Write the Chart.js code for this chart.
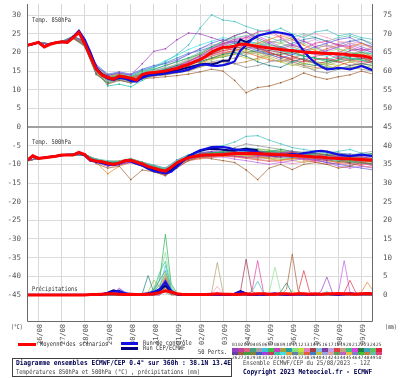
<!DOCTYPE html>
<html>
<head>
<meta charset="utf-8">
<script src="https://cdn.jsdelivr.net/npm/chart.js@4.4.1/dist/chart.umd.min.js"></script>
<style>
  body { margin: 0; background: #fff; }
  #wrap { position: relative; width: 400px; height: 378px; overflow: hidden; background: #fff; }
  #c { position: absolute; left: 0; top: 0; }
  .lbl { position: absolute; white-space: nowrap; font-family: 'DejaVu Sans Mono', monospace; line-height: 1; transform-origin: 0 0; color: #333; }
  .bar { position: absolute; }
</style>
</head>
<body>
<div id="wrap">
  <canvas id="c" width="400" height="378"></canvas>

  <div class="lbl" style="left:32px;top:17px;font-size:6.5px;transform:scaleX(0.83)">Temp. 850hPa</div>
  <div class="lbl" style="left:32px;top:139px;font-size:6.5px;transform:scaleX(0.83)">Temp. 500hPa</div>
  <div class="lbl" style="left:32px;top:286px;font-size:6.5px;transform:scaleX(0.83)">Précipitations</div>
  <div class="lbl" style="left:11px;top:324px;font-size:6.5px;transform:scaleX(0.75)">(°C)</div>
  <div class="lbl" style="left:385px;top:324px;font-size:6.5px;transform:scaleX(0.75)">(mm)</div>

  <div class="bar" style="left:18px;top:343px;width:18px;height:3px;background:#ff0000"></div>
  <div class="lbl" style="left:40px;top:341px;font-size:6.5px;transform:scaleX(0.83)">Moyenne des scénarios</div>
  <div class="bar" style="left:121px;top:342px;width:17px;height:3px;background:#1010e0"></div>
  <div class="bar" style="left:121px;top:347px;width:17px;height:3px;background:#000080"></div>
  <div class="lbl" style="left:143px;top:340px;font-size:6.5px;transform:scaleX(0.83)">Run de contrôle</div>
  <div class="lbl" style="left:143px;top:345px;font-size:6.5px;transform:scaleX(0.83)">Run CEP/ECMWF</div>
  <div class="lbl" style="left:198px;top:349px;font-size:6.5px;transform:scaleX(0.83)">50 Perts.</div>
  <div id="pal"></div>

  <div class="bar" style="left:12px;top:358px;width:220px;height:19px;border:1px solid #404040;box-sizing:border-box"></div>
  <div class="lbl" style="left:16px;top:360px;font-size:7px;font-weight:bold;color:#000050;transform:scaleX(0.895)">Diagramme ensembles ECMWF/CEP 0.4° sur 360h : 38.1N 13.4E</div>
  <div class="lbl" style="left:16px;top:369px;font-size:6.5px;color:#444;transform:scaleX(0.84)">Températures 850hPa et 500hPa (°C) , précipitations (mm)</div>
  <div class="lbl" style="left:243px;top:360px;font-size:6.5px;color:#444;transform:scaleX(0.855)">Ensemble ECMWF/CEP du 25/08/2023 - 12Z</div>
  <div class="lbl" style="left:243px;top:369px;font-size:7px;font-weight:bold;color:#000050;transform:scaleX(0.876)">Copyright 2023 Meteociel.fr - ECMWF</div>
</div>

<script>
// forecast steps (hours after 25/08 12Z)
const hours6 = [0,6,12,18,24,30,36,42,48,54,60,66,72,78,84,90,96,102,108,114,120,126,132,138,144,150,156,162,168,174,180,186,192,198,204,210,216,222,228,234,240,246,252,258,264,270,276,282,288,294,300,306,312,318,324,330,336,342,348,354,360]
const hours12 = [0,12,24,36,48,60,72,84,96,108,120,132,144,156,168,180,192,204,216,228,240,252,264,276,288,300,312,324,336,348,360]

const dayTicks = [12,36,60,84,108,132,156,180,204,228,252,276,300,324,348]
const dayLabels = ['26/08','27/08','28/08','29/08','30/08','31/08','01/09','02/09','03/09','04/09','05/09','06/09','07/09','08/09','09/09']
const leftTicks = [30,25,20,15,10,5,0,-5,-10,-15,-20,-25,-30,-35,-40,-45]
const rightTicks = [75,70,65,60,55,50,45,40,35,30,25,20,15,10,5,0]

// 850 hPa temperature (°C)
const t850Mean = [21.9,22.3,22.7,21.5,22.2,22.6,22.9,22.7,24.0,25.4,
  22.4,18.9,15.5,13.9,13.3,12.8,13.7,13.4,13.1,12.6,
  14.1,14.5,14.6,14.8,15.0,15.4,15.7,16.3,16.8,17.5,
  18.1,19.0,20.1,20.8,21.4,21.4,21.7,22.2,22.2,21.9,
  21.6,21.4,21.2,21.0,20.8,20.6,20.5,20.3,20.1,20.0,
  19.9,19.8,19.7,19.7,19.6,19.5,19.3,19.2,19.1,18.8,
  18.4]
const t850Ctrl = [21.9,22.3,22.6,21.6,22.3,22.6,22.8,22.8,24.2,25.8,
  23.5,20.0,16.0,14.0,13.0,12.6,13.2,13.0,12.4,12.2,
  13.2,13.8,14.0,14.1,14.3,14.6,14.8,15.0,15.4,16.0,
  16.6,16.8,16.5,16.4,16.6,17.0,17.6,20.5,22.0,23.5,
  24.5,24.9,25.2,25.5,25.3,25.0,24.6,22.5,20.3,18.6,
  17.2,16.2,15.5,15.6,15.9,15.7,15.5,15.9,16.4,15.8,
  15.2]
const t850Oper = [21.9,22.2,22.7,21.6,22.2,22.7,22.9,22.8,24.1,25.6,
  23.0,19.5,15.8,14.2,13.4,12.9,13.3,13.1,12.6,12.4,
  13.6,14.0,14.2,14.4,14.6,14.9,15.2,15.6,16.0,16.4,
  16.8,17.0,16.8,17.2,17.8,17.8,21.0,23.5,22.8,23.5,
  24.3]
const t850Members = [
  [21.8,22.6,22.3,22.8,24.2,23.0,16.5,13.8,14.5,14.0,17.0,20.3,21.0,23.4,25.2,25.0,24.0,23.0,24.5,25.5,24.0,22.5,21.0,22.0,23.0,21.5,20.0,19.0,20.5,21.0,20.0],
  [21.9,22.7,22.2,22.9,24.5,21.5,14.8,12.5,13.0,12.8,14.5,16.0,17.5,19.5,22.0,26.5,30.1,28.7,28.3,27.0,26.0,25.5,26.5,25.0,24.0,25.5,26.0,24.5,25.0,24.0,23.5],
  [21.9,22.6,22.1,22.8,23.8,22.0,14.5,11.5,12.5,12.0,13.0,13.2,13.5,13.8,14.2,14.8,15.5,15.0,12.5,9.2,10.6,11.0,11.9,13.0,14.5,13.5,12.8,13.5,14.0,15.0,14.2],
  [21.9,22.7,22.3,22.9,24.3,22.8,16.0,13.0,14.0,13.5,15.0,15.5,16.5,17.5,18.5,19.5,21.5,23.0,24.5,25.5,23.5,22.0,21.5,20.5,19.0,18.5,17.5,18.0,19.5,20.0,19.5],
  [21.9,22.6,22.2,22.8,24.0,22.5,15.0,12.8,13.2,12.5,13.5,14.0,14.8,16.0,17.5,19.0,21.0,22.5,23.5,24.0,25.5,26.0,24.0,22.0,21.0,22.5,23.0,22.0,21.5,20.5,21.0],
  [21.9,22.7,22.2,22.9,23.9,21.8,14.2,11.8,12.6,11.8,13.0,14.5,15.5,16.5,17.0,17.5,18.5,19.5,20.0,19.0,17.5,16.5,16.0,17.5,18.5,17.0,16.0,15.5,16.5,17.0,16.5],
  [21.9,22.7,22.3,22.9,24.1,22.3,15.8,13.6,14.2,13.4,14.0,14.2,14.5,15.0,15.8,17.0,18.5,19.5,20.5,21.5,22.5,23.5,24.5,23.5,22.0,20.5,19.5,20.0,21.5,22.5,21.0],
  [21.9,22.7,22.1,22.8,23.7,21.6,14.0,12.0,13.0,12.4,13.5,13.8,14.0,14.5,15.0,16.0,17.0,17.8,18.5,19.5,20.0,19.0,18.0,17.0,16.0,15.5,16.5,17.5,18.0,17.0,16.5],
  [21.9,22.6,22.3,22.9,24.2,23.2,16.8,14.2,14.8,14.2,15.5,16.5,17.0,18.0,19.5,21.0,22.5,23.5,22.5,21.5,20.5,19.5,18.5,19.5,20.5,21.5,22.5,23.5,24.0,22.5,21.5],
  [21.9,22.7,22.2,22.9,24.0,22.0,15.2,13.0,13.5,13.0,14.0,14.8,15.2,15.8,16.5,18.0,19.5,20.5,21.0,22.0,21.5,20.0,19.0,18.0,17.5,18.0,18.5,17.5,16.5,17.0,17.5],
  [21.9,22.7,22.2,22.8,24.4,23.0,16.2,13.5,14.0,13.6,14.6,15.0,15.8,16.8,18.0,19.5,20.5,21.0,22.0,23.0,22.0,21.0,22.5,23.5,22.5,21.0,20.0,21.0,20.0,19.5,18.5],
  [21.9,22.6,22.2,22.9,23.9,22.0,14.8,12.3,12.8,12.2,13.2,13.6,14.2,14.8,15.5,16.5,17.5,18.0,17.0,16.0,16.5,17.5,18.0,17.5,16.5,15.0,14.5,15.5,16.0,15.5,15.0],
  [21.9,22.7,22.3,22.9,24.1,22.6,15.6,11.0,11.5,10.8,12.5,14.0,15.0,16.0,17.0,18.5,20.0,21.5,22.5,23.0,22.5,21.5,20.5,19.5,19.0,18.5,18.0,19.0,18.5,18.0,17.0],
  [21.9,22.6,22.2,22.8,24.0,22.2,15.4,13.2,13.8,13.2,14.2,14.6,15.2,16.2,17.2,18.8,20.8,22.0,23.0,24.0,24.5,23.0,21.5,20.5,20.0,19.5,20.5,21.5,22.0,21.0,20.0],
  [21.9,22.7,22.2,22.9,24.2,22.4,15.5,13.4,13.6,13.0,14.0,14.4,14.8,15.4,16.0,17.2,18.4,19.2,20.0,20.5,19.5,18.5,17.5,16.5,17.0,17.5,16.5,15.5,16.0,16.5,16.0],
  [21.9,22.7,22.3,22.9,24.1,22.5,15.8,13.3,13.9,13.3,14.3,14.9,15.5,16.4,17.6,19.2,21.0,22.3,23.0,22.5,21.0,20.5,20.0,19.0,18.0,17.0,17.5,18.5,19.0,18.5,17.5],
  [21.9,22.6,22.2,22.8,23.8,21.9,14.9,12.6,13.1,12.7,13.6,14.1,14.6,15.2,16.2,17.6,19.2,20.2,21.5,23.5,24.5,25.0,24.0,23.0,24.5,25.0,24.0,23.0,22.5,22.0,21.5],
  [21.9,22.7,22.2,22.9,24.0,22.6,15.6,13.1,13.5,12.9,14.1,14.7,15.1,15.6,16.4,17.8,19.6,21.0,21.5,21.0,20.0,19.5,19.5,20.0,19.0,18.5,18.0,17.5,18.0,18.5,18.0],
  [21.9,22.6,22.2,22.9,24.0,22.3,15.2,12.9,13.4,12.9,14.0,15.0,16.2,17.8,19.5,21.0,22.0,22.5,23.5,24.5,23.0,21.5,20.5,21.5,22.5,23.5,22.0,20.5,19.5,20.5,21.5],
  [21.9,22.7,22.2,22.8,24.1,22.6,15.6,13.4,13.8,13.1,14.3,14.8,15.3,16.0,17.0,18.2,19.5,20.5,21.0,20.0,19.0,18.0,17.5,18.5,19.5,20.0,21.0,22.0,21.0,20.0,19.0],
  [21.9,22.6,22.3,22.9,24.3,23.0,16.3,13.9,14.4,13.8,15.2,16.0,17.2,18.5,19.8,20.5,21.5,22.5,23.0,22.0,21.0,20.5,21.5,22.5,23.5,24.0,23.0,22.0,23.0,23.5,22.0],
  [21.9,22.7,22.2,22.9,23.9,21.9,14.6,12.2,12.9,12.3,13.3,13.9,14.5,15.0,15.6,16.8,18.0,19.0,19.5,18.5,18.0,19.0,20.0,19.0,18.0,17.5,17.0,16.5,17.5,18.0,17.0],
  [21.9,22.6,22.2,22.8,24.2,22.7,15.9,13.7,14.1,13.5,14.6,15.4,16.6,17.5,18.6,20.0,21.5,23.0,24.0,24.5,25.0,24.0,23.0,24.0,25.0,24.0,23.0,24.0,24.5,23.5,22.5],
  [21.9,22.7,22.3,22.9,24.0,22.2,15.3,12.7,13.3,12.6,13.7,14.3,14.9,15.6,16.5,17.8,19.2,20.0,20.5,21.5,21.0,20.0,19.0,18.5,18.0,19.0,19.5,18.5,18.0,17.5,17.5],
  [21.9,22.6,22.2,22.9,24.1,22.4,15.7,13.2,13.7,13.2,14.4,15.2,15.8,16.6,17.8,19.0,20.2,21.2,22.0,22.5,21.5,22.5,23.5,22.0,21.0,20.0,20.5,21.5,22.5,21.5,20.5],
  [21.9,22.7,22.2,22.8,23.8,21.7,14.4,12.4,13.0,12.5,13.4,13.7,14.0,14.6,15.2,16.2,17.2,17.5,17.0,17.5,18.5,19.5,18.5,17.5,16.5,16.0,15.5,16.5,17.5,16.5,15.5],
  [21.9,22.6,22.3,22.9,24.2,22.9,16.4,14.0,14.6,14.0,15.4,16.2,17.8,19.2,20.8,22.0,23.0,24.0,23.5,23.0,22.0,21.0,20.0,21.0,20.5,19.5,19.0,20.0,21.0,20.5,19.5],
  [21.9,22.7,22.2,22.9,24.0,22.4,15.4,13.0,13.5,12.9,14.0,14.5,15.0,15.8,16.8,18.0,19.0,19.8,20.5,21.0,22.0,23.0,22.5,21.5,20.5,21.0,22.0,21.0,20.0,19.5,19.0],
  [21.9,22.6,22.2,22.8,24.1,22.5,15.6,13.3,13.8,13.3,14.5,15.1,15.9,16.9,18.2,19.8,21.2,22.0,22.5,23.5,24.5,25.5,25.0,24.0,23.0,22.0,21.5,22.5,23.0,22.5,21.5],
  [21.9,22.7,22.3,22.9,24.0,22.1,15.0,12.5,13.1,12.6,13.8,14.4,15.2,16.0,16.8,17.6,18.4,18.8,19.5,20.0,20.5,20.0,19.0,18.0,17.0,16.5,17.0,18.0,18.5,18.0,17.5]
]

// 500 hPa temperature (°C)
const t500Mean = [-9.0,-7.7,-8.4,-8.2,-8.0,-7.8,-7.5,-7.5,-7.5,-6.8,
  -7.4,-8.8,-9.1,-9.3,-9.7,-10.0,-9.6,-9.0,-8.9,-9.4,
  -9.9,-10.6,-11.0,-11.5,-11.8,-10.8,-9.6,-8.8,-8.2,-7.9,
  -7.6,-7.5,-7.5,-7.4,-7.4,-7.2,-7.1,-7.1,-7.1,-7.0,
  -7.1,-7.2,-7.3,-7.4,-7.4,-7.5,-7.6,-7.7,-7.8,-7.9,
  -8.0,-8.0,-8.2,-8.3,-8.4,-8.5,-8.5,-8.6,-8.7,-8.8,
  -8.9]
const t500Ctrl = [-9.0,-7.8,-8.3,-8.2,-8.0,-7.8,-7.6,-7.4,-7.4,-6.9,
  -7.6,-9.0,-9.3,-9.6,-10.0,-10.2,-9.8,-9.0,-9.2,-9.8,
  -10.3,-11.2,-11.8,-12.1,-12.4,-12.0,-10.6,-9.2,-8.0,-7.0,
  -6.2,-5.8,-5.4,-5.3,-5.4,-5.6,-6.0,-6.2,-6.2,-6.4,
  -6.8,-7.2,-7.4,-7.6,-7.5,-7.4,-7.2,-7.4,-7.0,-6.8,
  -6.5,-6.4,-6.6,-7.0,-7.4,-7.6,-7.8,-7.6,-7.4,-7.6,
  -7.8]
const t500Oper = [-9.0,-7.7,-8.4,-8.2,-8.0,-7.8,-7.5,-7.5,-7.4,-6.8,
  -7.5,-8.9,-9.2,-9.5,-9.9,-10.1,-9.7,-9.1,-9.0,-9.6,
  -10.1,-10.9,-11.5,-11.9,-12.2,-11.6,-10.2,-8.9,-7.8,-7.0,
  -6.4,-6.0,-5.8,-5.9,-6.1,-6.2,-6.3,-6.0,-5.8,-6.0,
  -6.2]
const t500Members = [
  [-9.0,-8.3,-8.0,-7.6,-7.4,-7.2,-9.5,-10.5,-10.0,-9.5,-10.5,-11.5,-12.5,-10.0,-8.5,-7.0,-6.5,-6.0,-6.5,-7.0,-7.5,-8.0,-7.0,-6.5,-7.5,-8.5,-9.0,-8.0,-7.5,-8.0,-8.5],
  [-9.0,-8.4,-8.1,-7.4,-7.5,-7.6,-8.5,-9.0,-9.2,-8.5,-9.5,-10.5,-11.0,-9.0,-7.5,-6.5,-5.5,-5.0,-4.0,-2.5,-2.3,-3.5,-4.5,-5.5,-6.0,-6.5,-7.0,-6.5,-6.0,-7.0,-7.5],
  [-9.0,-8.5,-8.0,-7.5,-7.6,-7.3,-9.8,-11.0,-10.5,-14.1,-11.5,-12.0,-13.0,-11.0,-9.0,-8.0,-8.5,-9.0,-9.5,-11.5,-14.1,-11.0,-10.0,-11.4,-10.0,-9.5,-10.0,-11.0,-10.5,-9.5,-10.0],
  [-9.0,-8.4,-7.9,-7.5,-7.3,-7.5,-8.8,-9.5,-9.3,-8.5,-9.5,-10.5,-11.5,-9.5,-8.0,-7.5,-7.0,-6.5,-6.0,-6.5,-7.0,-6.5,-6.0,-6.5,-7.0,-7.5,-8.0,-8.5,-9.0,-9.5,-10.0],
  [-9.0,-8.3,-8.0,-7.5,-7.5,-7.4,-9.2,-10.0,-10.0,-9.0,-10.0,-11.5,-12.0,-10.0,-8.5,-8.0,-7.8,-7.5,-7.8,-8.2,-8.0,-7.5,-7.2,-7.8,-8.5,-9.0,-8.5,-8.0,-8.5,-9.5,-10.5],
  [-9.0,-8.4,-8.0,-7.5,-7.6,-7.2,-9.0,-9.4,-9.5,-8.8,-10.0,-11.0,-12.0,-9.5,-7.8,-7.0,-6.8,-6.8,-6.5,-6.0,-6.5,-7.0,-7.5,-8.0,-7.5,-7.0,-7.5,-8.0,-8.0,-7.5,-7.0],
  [-9.0,-8.4,-8.0,-7.4,-7.4,-7.5,-9.5,-12.5,-10.5,-9.5,-10.5,-12.0,-13.0,-10.5,-9.0,-8.5,-8.0,-7.8,-7.5,-7.5,-8.0,-8.5,-9.0,-8.5,-8.0,-8.5,-9.0,-9.5,-9.0,-9.5,-9.0],
  [-9.0,-8.4,-8.0,-7.5,-7.5,-7.4,-8.6,-9.2,-9.0,-8.4,-9.4,-10.4,-11.2,-9.2,-8.0,-7.4,-7.2,-7.0,-6.8,-6.9,-6.8,-7.0,-7.2,-7.5,-7.8,-8.0,-8.5,-8.8,-8.2,-8.0,-8.5],
  [-9.0,-8.4,-8.0,-7.5,-7.5,-7.3,-9.3,-9.9,-9.8,-9.2,-10.2,-11.3,-12.3,-10.3,-8.5,-7.8,-7.6,-7.2,-7.0,-7.2,-7.5,-7.8,-8.0,-8.2,-8.5,-8.8,-9.5,-10.0,-10.5,-11.0,-11.5],
  [-9.0,-8.4,-8.0,-7.5,-7.4,-7.5,-8.9,-9.6,-9.5,-8.7,-9.7,-10.8,-11.6,-9.4,-8.0,-7.3,-7.0,-7.0,-7.2,-6.8,-6.5,-6.8,-7.0,-6.8,-7.0,-7.2,-7.5,-7.8,-8.0,-8.2,-8.5],
  [-9.0,-8.4,-8.0,-7.6,-7.5,-7.4,-9.0,-9.8,-9.7,-9.0,-10.0,-11.2,-12.0,-9.8,-8.4,-7.8,-7.5,-7.5,-7.5,-7.8,-8.2,-8.5,-8.5,-8.2,-8.0,-7.8,-8.0,-8.5,-9.0,-8.8,-9.5],
  [-9.0,-8.4,-8.0,-7.5,-7.5,-7.4,-9.2,-10.2,-9.8,-9.0,-9.8,-10.8,-11.6,-9.6,-8.2,-7.6,-7.4,-7.2,-5.5,-4.5,-5.0,-5.5,-6.0,-6.5,-6.8,-6.5,-6.5,-7.0,-7.5,-7.0,-6.5],
  [-9.0,-8.4,-8.0,-7.5,-7.4,-7.3,-8.7,-9.4,-9.5,-8.8,-9.6,-10.6,-11.4,-9.8,-8.6,-8.0,-7.8,-7.6,-7.4,-7.0,-6.8,-6.6,-6.8,-7.0,-7.4,-7.8,-8.4,-9.0,-9.2,-9.6,-10.0],
  [-9.0,-8.4,-8.0,-7.5,-7.5,-7.6,-9.4,-10.0,-10.2,-9.4,-10.4,-11.8,-13.0,-10.8,-9.0,-8.4,-8.2,-8.0,-8.6,-9.0,-9.5,-10.0,-9.5,-9.0,-8.5,-9.0,-9.5,-10.5,-11.0,-10.5,-11.0],
  [-9.0,-8.4,-8.0,-7.5,-7.4,-7.4,-8.8,-9.4,-9.2,-8.6,-9.6,-10.6,-11.4,-9.2,-7.8,-7.2,-7.0,-6.8,-6.5,-6.2,-6.0,-6.2,-6.5,-7.0,-7.2,-7.0,-7.2,-7.5,-7.8,-7.5,-7.2],
  [-9.0,-8.4,-8.0,-7.5,-7.5,-7.4,-9.0,-9.6,-9.6,-9.0,-10.2,-11.4,-12.4,-10.0,-8.4,-7.8,-7.6,-7.6,-7.8,-8.0,-7.6,-7.4,-7.6,-8.0,-8.4,-8.6,-8.4,-8.8,-9.2,-9.0,-9.4],
  [-9.0,-8.4,-8.0,-7.5,-7.5,-7.4,-9.1,-9.8,-9.8,-9.1,-10.0,-11.1,-11.9,-9.7,-8.3,-7.7,-7.4,-7.3,-7.5,-7.8,-7.8,-7.5,-7.2,-7.0,-7.2,-7.6,-8.0,-8.0,-7.6,-7.8,-8.2],
  [-9.0,-8.4,-8.0,-7.5,-7.5,-7.4,-9.0,-9.6,-9.5,-8.8,-9.8,-10.9,-11.7,-9.5,-8.1,-7.5,-7.2,-7.0,-7.0,-6.8,-7.0,-7.2,-7.0,-7.2,-7.6,-8.2,-8.8,-9.2,-9.6,-9.4,-9.8],
  [-9.0,-8.4,-8.0,-7.5,-7.5,-7.4,-9.0,-9.7,-9.6,-8.9,-9.9,-11.1,-12.1,-9.9,-8.3,-7.4,-6.8,-6.5,-6.2,-6.5,-7.0,-7.5,-7.0,-6.5,-6.8,-7.2,-7.8,-8.2,-8.0,-7.8,-8.0],
  [-9.0,-8.4,-8.0,-7.5,-7.4,-7.5,-9.2,-10.4,-10.0,-9.2,-10.2,-11.6,-12.8,-10.6,-8.8,-8.0,-7.8,-7.8,-8.0,-8.4,-8.8,-9.2,-8.8,-8.4,-8.8,-9.4,-10.0,-9.6,-9.8,-10.4,-10.8],
  [-9.0,-8.4,-8.0,-7.5,-7.5,-7.3,-8.8,-9.3,-9.4,-8.6,-9.4,-10.2,-11.0,-8.8,-7.4,-6.8,-6.6,-6.6,-6.4,-6.2,-6.4,-6.6,-6.4,-6.8,-7.2,-7.6,-7.4,-7.0,-7.2,-7.6,-8.0],
  [-9.0,-8.4,-8.0,-7.6,-7.5,-7.4,-9.1,-9.9,-9.9,-9.3,-10.4,-11.4,-12.2,-10.2,-8.7,-8.0,-7.6,-7.4,-7.2,-7.4,-7.8,-8.2,-8.6,-9.0,-9.4,-9.0,-8.6,-8.4,-8.8,-9.2,-9.0],
  [-9.0,-8.4,-8.0,-7.5,-7.5,-7.4,-8.9,-9.5,-9.4,-8.7,-9.7,-10.7,-11.5,-9.3,-7.9,-7.2,-7.0,-6.6,-6.0,-5.6,-5.8,-6.2,-6.6,-7.0,-7.4,-7.8,-8.2,-8.6,-8.4,-8.2,-8.6],
  [-9.0,-8.4,-8.0,-7.5,-7.5,-7.4,-9.3,-10.0,-9.8,-9.0,-10.0,-11.0,-11.8,-9.6,-8.2,-7.6,-7.4,-7.2,-7.0,-7.4,-8.0,-8.4,-8.0,-7.6,-7.4,-7.8,-8.2,-8.8,-9.6,-10.0,-9.6],
  [-9.0,-8.4,-8.0,-7.5,-7.4,-7.4,-9.0,-9.6,-9.7,-9.1,-10.1,-11.2,-12.0,-9.8,-8.4,-7.7,-7.4,-7.2,-7.4,-7.6,-7.2,-6.8,-6.6,-7.0,-7.6,-8.0,-7.8,-7.4,-7.8,-8.4,-8.8],
  [-9.0,-8.4,-8.0,-7.5,-7.5,-7.4,-8.9,-9.5,-9.6,-9.0,-10.0,-11.0,-11.7,-9.5,-8.0,-7.4,-7.3,-7.2,-7.6,-8.0,-8.4,-8.0,-7.6,-7.8,-8.2,-8.6,-9.0,-9.4,-9.0,-8.6,-9.2],
  [-9.0,-8.4,-8.0,-7.5,-7.5,-7.4,-9.2,-10.0,-10.1,-9.3,-10.3,-11.3,-12.2,-10.1,-8.6,-7.9,-7.5,-7.0,-6.6,-6.4,-6.8,-7.2,-7.6,-7.4,-7.0,-7.4,-7.8,-8.2,-8.6,-9.0,-9.4],
  [-9.0,-8.4,-8.0,-7.5,-7.5,-7.4,-9.0,-9.7,-9.5,-8.8,-9.8,-10.9,-11.6,-9.6,-8.3,-7.6,-7.4,-7.4,-7.2,-7.0,-7.4,-7.8,-8.2,-8.6,-8.2,-7.8,-8.0,-8.4,-8.0,-8.4,-8.8],
  [-9.0,-8.4,-8.0,-7.5,-7.5,-7.4,-9.1,-9.8,-9.7,-9.0,-10.1,-11.2,-12.1,-9.9,-8.4,-7.7,-7.6,-7.6,-7.8,-8.2,-8.6,-9.0,-9.4,-9.8,-9.4,-9.0,-9.4,-9.8,-10.2,-9.8,-10.2],
  [-9.0,-8.4,-8.0,-7.5,-7.5,-7.4,-8.8,-9.4,-9.3,-8.6,-9.6,-10.7,-11.4,-9.3,-7.9,-7.3,-7.1,-6.9,-6.8,-6.6,-6.4,-6.6,-7.0,-7.4,-7.8,-8.0,-7.6,-7.2,-7.6,-8.0,-8.4]
]

// 6h precipitation (mm)
const rrMean = [0,0,0,0,0,0,0,0,0,0,
  0,0.1,0.1,0.2,0.3,0.3,0.2,0.1,0.2,0.1,
  0.1,0.2,0.3,0.6,1.1,0.8,0.3,0.1,0.1,0.1,
  0.1,0.1,0.2,0.3,0.2,0.2,0.1,0.2,0.3,0.2,
  0.3,0.3,0.2,0.2,0.3,0.3,0.2,0.3,0.3,0.2,
  0.3,0.2,0.3,0.3,0.4,0.3,0.3,0.2,0.3,0.4,
  0.3]
const rrCtrl = [0,0,0,0,0,0,0,0,0,0,
  0,0,0,0.2,0.5,0.9,1.0,0.4,0.2,0.1,
  0.2,0.4,0.8,1.5,3.5,1.0,0.2,0,0,0,
  0,0.1,0.2,0,0,0.1,0.3,0.8,0.2,0,
  0.1,0,0.2,0.4,0.1,0,0,0.2,0.1,0,
  0.1,0.2,0.3,0.1,0,0.2,0.4,0.3,0.2,0.5,
  0.3]
const rrOper = [0,0,0,0,0,0,0,0,0,0,
  0,0,0,0.1,0.6,1.2,0.8,0.3,0.1,0,
  0.1,0.3,0.6,1.2,2.5,0.8,0.2,0,0,0,
  0,0,0.1,0.2,0,0,0.3,1.0,0.4,0,
  0]
const rrMembers = [
  [0,0,0,0,0,0,0,0,0,0, 0,0,0,0,0,0.5,1.8,0.6,0,0, 0,0,0,1.0,4.0,0.8,0,0,0,0, 0,0,0,0,0,0,0,0,0,0, 0,0,0,0,0,0,0,0,0,0, 0,1.0,4.8,0.5,0,0,0,0,0,0, 0],
  [0,0,0,0,0,0,0,0,0,0, 0,0,0,0,0,0,0,0,0,0, 0,0,0.5,2.0,7.9,1.5,0,0,0,0, 0,0,0,0,0,0,0,0,0,0.8, 3.7,0.5,0,0,0,0,0,0,0,0, 0,0,0,0,0,0,0,0,0,0, 0],
  [0,0,0,0,0,0,0,0,0,0, 0,0,0,0,0,0,0,0,0,0, 0,0,0,0.5,2.0,0.3,0,0,0,0, 0,0,0,0,0,0,0,0,0,0, 0,0,0,0,0,1.5,11.0,1.2,0,0, 0,0,0,0,0,0,0,0,0.5,0, 0],
  [0,0,0,0,0,0,0,0,0,0, 0,0,0,0,0,0,0,0,0,0, 0,0,1.0,4.0,16.3,3.0,0.5,0,0,0, 0,0,0,0,0,0,0,0,0,0, 0,0,0,0,0,0,0,0,0,0, 0,0,0,0,0,0,0,0,0,0, 0],
  [0,0,0,0,0,0,0,0,0,0, 0,0,0,0,0,0,0.6,0,0,0, 0,0,0,0.8,3.0,0.4,0,0,0,0, 0,0,0,0,0,0,0,0,0,1.0, 9.2,0.8,0,0,0,0,0,0,0,0, 0,0,0,0,0,0,0,0,0,0, 0],
  [0,0,0,0,0,0,0,0,0,0, 0,0,0,0,0,0,0,0,0,0, 0.4,5.2,0.6,1.0,2.5,0.3,0,0,0,0, 0,0,0,0,0,0,0,0,0,0, 0,0,0,0,0.8,3.2,0.3,0,0,0, 0,0,0,0,0,0,0,0,0,0, 0],
  [0,0,0,0,0,0,0,0,0,0, 0,0,0,0,0,0,0,0,0,0, 0,0,0,1.2,5.0,1.0,0,0,0,0, 0,0,0,0,0,0,0,0,0,0, 0,0,0,0,0,0,0,0,0,0, 0,0,0,0,0,0,0,0,0.8,3.4, 1.2],
  [0,0,0,0,0,0,0,0,0,0, 0,0,0,0,0,0,0,0,0,0, 0,0,0.8,3.0,1.5,0,0,0,0,0, 0,0,0.5,8.7,0.6,0,0,0,0,0, 0,0,0,0,0,0,0,0,0,0, 0,0,0,0,0,0,0,0,0,0, 0],
  [0,0,0,0,0,0,0,0,0,0, 0,0,0,0,0,0.4,1.5,0.8,0,0, 0,0,0,1.5,4.5,1.4,0,0,0,0, 0,0,0,0,0,0,0,0,0,0, 0,0,0,0,0,0,0,0,0,0, 0,0,0,0,0,0,0,0,0,0, 0],
  [0,0,0,0,0,0,0,0,0,0, 0,0,0,0,0,0,0,0,0,0, 0,0,0,0.6,3.5,0.5,0,0,0,0, 0,0,0,0,0,0,0,0,0,0, 0,0,0,0,0,0,0,0.5,6.5,0.8, 0,0,0,0,0,0.6,3.9,0.7,0,0, 0],
  [0,0,0,0,0,0,0,0,0,0, 0,0,0,0,0,0,0,0,0,0, 0,0,2.0,5.0,11.4,2.5,0,0,0,0, 0,0,0,0,0,0,0,0,0,0, 0,0,0.6,7.4,0.8,0,0,0,0,0, 0,0,0,0,0,0,0,0,0,0, 0],
  [0,0,0,0,0,0,0,0,0,0, 0,0,0,0,0,0,0,0,0,0, 0,0,0,0,2.0,0.6,0,0,0,0, 0,0,0,0,0,0,0,0,0,0, 0,0,0,0,0,0,0,0,0,0, 0,0,0,0,0,0,0,0,0,0, 0],
  [0,0,0,0,0,0,0,0,0,0, 0,0,0,0,0,0,0,0,0,0, 0,0,1.5,6.0,9.0,2.0,0,0,0,0, 0,0,0,0,0,0,0,0,0,0, 0,0,0,0,0,0,0,0,0,0, 0,0,0,0,0,0,0,0,0,0, 0],
  [0,0,0,0,0,0,0,0,0,0, 0,0,0,0,0,0,1.2,0.3,0,0, 0,0,0,0,1.5,0,0,0,0,0, 0,0,0,0,0,0,0,0,0,0, 0,0,0,0,0,0,0,0,0,0, 0,0,0,0,0.6,9.2,0.8,0,0,0, 0],
  [0,0,0,0,0,0,0,0,0,0, 0,0,0,0,0,0,0,0,0,0, 0,0.8,4.0,2.0,6.0,1.2,0,0,0,0, 0,0,0,0,0,0,0,0,0,0, 0,0,0,0,0,0,0,0,0,0, 0,0,0,0,0,0,0,0,0,0, 0],
  [0,0,0,0,0,0,0,0,0,0, 0,0,0,0,0,0,0,0,0,0, 0,0,0,0.8,4.2,0.6,0,0,0,0, 0,0,0,0,0,0,0,0.7,9.6,1.0, 0,0,0,0,0,0,0,0,0,0, 0,0,0,0,0,0,0,0,0,0, 0],
  [0,0,0,0,0,0,0,0,0,0, 0,0,0,0,0,0,0,0,0,0, 0,0,0,0,2.8,0.4,0,0,0,0, 0,0,0.3,2.3,0.2,0,0,0,0,0, 0,0,0,0,0,0,0,0,0,0, 0,0,0,0,0,0,0,0,0,0, 0],
  [0,0,0,0,0,0,0,0,0,0, 0,0,0,0,0,0,0,0,0,0, 0,0,0,0,3.0,0.5,0,0,0,0, 0,0,0,0,0,0,0.4,1.0,0.3,0, 0,0,0,0,0,0,0,0,0,0, 0,0,0,0,0,0,0,0,0,0, 0],
  [0,0,0,0,0,0,0,0,0,0, 0,0,0,0,0,0,0,0,0,0, 0,0,0.5,1.5,3.5,0.8,0,0,0,0, 0,0,0,0.8,0,0,0,0,0,0, 0,0,0,0,0,0,0,0,0,0, 0,0,0,0,0,0,0,0,0,0, 0],
  [0,0,0,0,0,0,0,0,0,0, 0,0,0,0,0,0,0,0,0,0, 0,0,0,1.0,2.5,0.5,0,0,0,0, 0,0,0,0,0,0,0,0,0,0, 0,0,0,0,0,0,0,0,0,0, 0,0,0,0,0,0,0,0,0,0, 0],
  [0,0,0,0,0,0,0,0,0,0, 0,0,0,0,0,0,0,0,0,0, 0,0.5,1.5,4.0,6.5,1.5,0,0,0,0, 0,0,0,0,0,0,0,0,0,0, 0,0,0,0,0,0,0,0,0,0, 0,0,0,0,0,0,0,0,0,0, 0],
  [0,0,0,0,0,0,0,0,0,0, 0,0,0,0,0,0,0,0,0,0, 0,0,0.3,0.8,1.8,0.4,0,0,0,0, 0,0,0,0,0,0,0,0,0,0, 0,0,0,0,0,0,1.2,0,0,0, 0,0,0,0,0,0,0,0,0,0, 0],
  [0,0,0,0,0,0,0,0,0,0, 0,0,0,0,0,0,0,0,0,0, 0,0,1.0,2.5,5.5,1.0,0,0,0,0, 0,0,0,0,0,0,0,0,0,0, 0,0,0,0,0,0,0,0,0,0, 0,0,0,0,0,0,0,0,0,0, 0],
  [0,0,0,0,0,0,0,0,0,0, 0,0,0,0,0,0,0,0,0,0, 0,0,0,0.5,2.2,0.6,0,0,0,0, 0,0,0,0,0,0,0,0,0,0, 0,0,0,0,0,0,0,0,0,0, 0,0,0,0,0,0,0,0,0,0, 0],
  [0,0,0,0,0,0,0,0,0,0, 0,0,0,0,0,0,0,0,0,0, 0,0,0,0.4,1.2,0.3,0,0,0,0, 0,0,0,0,0,0,0,0,0,0, 0,0,0,0,0,0,0,0,0,0, 0,0,0,0,0,0,0,0,0,0, 0],
  [0,0,0,0,0,0,0,0,0,0, 0,0,0,0,0,0,0,0,0,0, 0,0,0.4,0.9,2.0,0.5,0,0,0,0, 0,0,0,0,0,0,0,0,0,0, 0,0,0,0,0,0,0,0,0,0, 0,0,0,0,0,0,0,0,0,0, 0],
  [0,0,0,0,0,0,0,0,0,0, 0,0,0,0,0,0,0,0,0,0, 0,0,0,0.3,0.8,0.2,0,0,0,0, 0,0,0,0,0,0,0,0,0,0, 0,0,0,0,0,0,0,0,0,0, 0,0,1.0,0,0,0,0,0,0,0, 0],
  [0,0,0,0,0,0,0,0,0,0, 0,0,0,0,0,0,0,0,0,0, 0,0,0.6,1.5,0.6,0,0,0,0,0, 0,0,0,0,0,0,0,0,0,0, 0,0,0,0,0,0,0,0,0,0, 0,0,0,0,0,0,0,0,0,0, 0],
  [0,0,0,0,0,0,0,0,0,0, 0,0,0,0,0,0,0,0,0,0, 0,0,0,1.2,3.0,0.7,0,0,0,0, 0,0,0,0,0,0,0,0,0,0, 0,0,0,0,0,0,0,0,0,0, 0,0,0,0,0,0,0,0,0,0, 0],
  [0,0,0,0,0,0,0,0,0,0, 0,0,0,0,0,0,0,0,0,0, 0,0,0,0.8,2.6,0.4,0,0,0,0, 0,0,0,0,0,0,0,0,0,0, 0,0,0,0,0,0,0,0,0,0, 0,0,0,0,0,0,0,0,0,0, 0]
]

const memberColors = ['#a040c0','#40c0c0','#a06030','#30b060','#e040a0','#208080','#f08020','#b0a070','#6060e0',
  '#e03040','#90e090','#909090','#20c0a0','#c060e0','#a0c030','#a03050','#f0a0c0','#406040',
  '#c0a0e0','#e06040','#4080c0','#c0c040','#60c0a0','#e04080','#8080c0','#c08040','#40e0e0','#a0a040','#e080c0','#208040']
const paletteTop = ['#9040c0','#c040a0','#e06080','#40a080','#a0a0a0','#40c0e0','#40c040','#c040c0','#a0a040','#20a0a0','#80e080','#c0e040','#e080c0',
  '#a04040','#80c0e0','#8040a0','#c0a0e0','#e04040','#c0a080','#40c080','#e040e0','#208040','#40a0c0','#60c060','#e02040']
const paletteBottom = ['#6040a0','#a06040','#40a040','#808040','#4060c0','#a040e0','#c04060','#40c0a0','#40e0e0','#e0a040','#6080a0','#a0c060','#e06040',
  '#4080c0','#c0c040','#a0a0e0','#e0a0a0','#60a060','#c060c0','#e0c040','#8080c0','#40c040','#c08040','#60c0a0','#e04080']

const PRECIP_ZERO = -45   // precipitation is drawn with 0 mm on the -45 line

function pts(hours, vals, base) {
  return vals.map((v, i) => ({ x: hours[i], y: base + v }))
}

const datasets = []
function line(hours, vals, base, color, width, order, dots) {
  datasets.push({
    data: pts(hours, vals, base),
    borderColor: color,
    backgroundColor: color,
    borderWidth: width,
    pointRadius: dots ? 1 : 0,
    pointStyle: 'rect',
    pointBorderWidth: 0,
    order: order,
  })
}

t850Members.forEach((m, i) => line(hours12, m, 0, memberColors[i], 0.7, 10 + i, true))
t500Members.forEach((m, i) => line(hours12, m, 0, memberColors[i], 0.7, 10 + i, true))
rrMembers.forEach((m, i) => line(hours6, m, PRECIP_ZERO, memberColors[i], 0.7, 10 + i, false))

line(hours6, t850Oper, 0, '#000080', 2, 2)
line(hours6, t500Oper, 0, '#000080', 2, 2)
line(hours6, rrOper, PRECIP_ZERO, '#000080', 2, 2)
line(hours6, t850Ctrl, 0, '#1010e0', 2.2, 1)
line(hours6, t500Ctrl, 0, '#1010e0', 2.2, 1)
line(hours6, rrCtrl, PRECIP_ZERO, '#1010e0', 2.2, 1)
line(hours6, t850Mean, 0, '#ff0000', 3, 0)
line(hours6, t500Mean, 0, '#ff0000', 3, 0)
line(hours6, rrMean, PRECIP_ZERO, '#ff0000', 3, 0)

const axisText = {
  id: 'axisText',
  afterDraw(chart) {
    const { ctx, chartArea: a, scales: { x, y } } = chart
    ctx.save()
    ctx.strokeStyle = '#6a6a6a'
    ctx.lineWidth = 1
    ctx.beginPath()
    ctx.moveTo(a.left + 0.5, a.top)
    ctx.lineTo(a.left + 0.5, a.bottom + 0.5)
    ctx.lineTo(a.right - 0.5, a.bottom + 0.5)
    ctx.lineTo(a.right - 0.5, a.top)
    ctx.stroke()

    ctx.font = '7.5px "DejaVu Sans Mono"'
    ctx.fillStyle = '#555'
    ctx.textBaseline = 'middle'
    leftTicks.forEach((v, i) => {
      const py = y.getPixelForValue(v)
      ctx.textAlign = 'right'
      ctx.fillText(String(v), a.left - 6, py)
      ctx.textAlign = 'left'
      ctx.fillText(String(rightTicks[i]), a.right + 10, py)
    })
    ctx.font = '7px "DejaVu Sans Mono"'
    dayTicks.forEach((h, i) => {
      const px = x.getPixelForValue(h)
      ctx.save()
      ctx.translate(px + 2, a.bottom + 24)
      ctx.rotate(-Math.PI / 2)
      ctx.textAlign = 'left'
      ctx.fillText(dayLabels[i], 0, 0)
      ctx.restore()
    })
    ctx.restore()
  }
}

new Chart(document.getElementById('c'), {
  type: 'line',
  data: { datasets },
  options: {
    responsive: false,
    animation: false,
    events: [],
    layout: { padding: { left: 27, right: 27, top: 0, bottom: 57 } },
    plugins: { legend: { display: false }, tooltip: { enabled: false } },
    elements: { line: { tension: 0 } },
    scales: {
      x: {
        type: 'linear', min: 0, max: 360,
        afterBuildTicks: (s) => { s.ticks = dayTicks.map((v) => ({ value: v })) },
        ticks: { display: false },
        grid: { color: '#d8d8d8', drawTicks: false },
        border: { display: false },
      },
      y: {
        type: 'linear', min: -52, max: 33,
        afterBuildTicks: (s) => { s.ticks = leftTicks.map((v) => ({ value: v })) },
        ticks: { display: false },
        grid: {
          color: (c) => (c.tick && c.tick.value === 0 ? '#a0a0a0' : '#dcdcdc'),
          lineWidth: (c) => (c.tick && c.tick.value === 0 ? 2 : 1),
          drawTicks: false,
        },
        border: { display: false },
      },
    },
  },
  plugins: [axisText],
})

// member colour palette in the legend
const pal = document.getElementById('pal')
paletteTop.forEach((col, k) => {
  const left = 232 + k * 6
  pal.insertAdjacentHTML('beforeend',
    `<div class="bar" style="left:${left}px;top:348px;width:6px;height:4px;background:${col}"></div>` +
    `<div class="bar" style="left:${left}px;top:352px;width:6px;height:3px;background:${paletteBottom[k]}"></div>` +
    `<div class="lbl" style="left:${left}px;top:343px;font-size:4.5px">${String(k + 1).padStart(2, '0')}</div>` +
    `<div class="lbl" style="left:${left}px;top:356px;font-size:4.5px">${String(k + 26)}</div>`)
})
</script>
</body>
</html>
